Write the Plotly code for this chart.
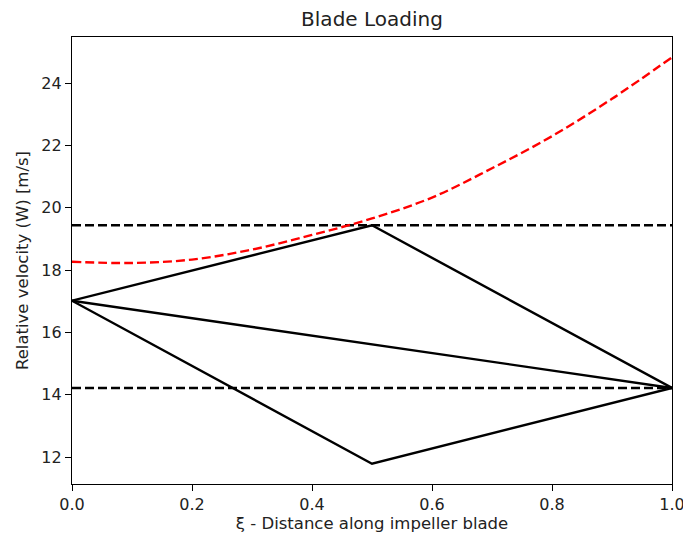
import plotly.graph_objects as go

# ---- data ----
xi_nodes = [0.0, 0.5, 1.0]
w_suction = [17.02, 19.44, 14.22]      # upper polyline
w_pressure = [17.02, 11.79, 14.22]     # lower polyline
xi_mean = [0.0, 1.0]
w_mean = [17.02, 14.22]
w_limits = [19.44, 14.22]              # dashed horizontal lines

xi_curve = [0.0, 0.1, 0.2, 0.3, 0.4, 0.5, 0.6, 0.7, 0.8, 0.9, 1.0]
w_curve = [18.27, 18.23, 18.34, 18.66, 19.13, 19.66, 20.33, 21.27, 22.30, 23.50, 24.83]

x_ticks = [0.0, 0.2, 0.4, 0.6, 0.8, 1.0]
y_ticks = [12, 14, 16, 18, 20, 22, 24]

FONT = "DejaVu Sans"
LW = 2.4

fig = go.Figure()
fig.add_trace(go.Scatter(x=xi_nodes, y=w_suction, mode="lines",
                         line=dict(color="black", width=LW), showlegend=False))
fig.add_trace(go.Scatter(x=xi_mean, y=w_mean, mode="lines",
                         line=dict(color="black", width=LW), showlegend=False))
fig.add_trace(go.Scatter(x=xi_nodes, y=w_pressure, mode="lines",
                         line=dict(color="black", width=LW), showlegend=False))
for yv in w_limits:
    fig.add_trace(go.Scatter(x=[x_ticks[0], x_ticks[-1]], y=[yv, yv], mode="lines",
                             line=dict(color="black", width=LW, dash="9px,4px"),
                             showlegend=False))
fig.add_trace(go.Scatter(x=xi_curve, y=w_curve, mode="lines",
                         line=dict(color="#ff0000", width=LW, dash="9px,4px", shape="spline"),
                         showlegend=False))

all_y = w_suction + w_pressure + w_mean + w_limits + w_curve
ymin, ymax = min(all_y), max(all_y)
pad = 0.05 * (ymax - ymin)

axis_common = dict(showline=True, linecolor="black", linewidth=1.3, mirror=True,
                   ticks="outside", ticklen=6, tickwidth=1.3, tickcolor="black",
                   showgrid=False, zeroline=False, automargin=False,
                   ticklabeloverflow="allow",
                   tickfont=dict(family=FONT, size=16, color="#222"))

fig.update_xaxes(range=[x_ticks[0], x_ticks[-1]], tickvals=x_ticks, tickformat=".1f",
                 title=dict(text="ξ - Distance along impeller blade", standoff=4,
                            font=dict(family=FONT, size=16.5, color="#222")),
                 **axis_common)
fig.update_yaxes(range=[ymin - pad, ymax + pad], tickvals=y_ticks,
                 title=dict(text="Relative velocity (W) [m/s]", standoff=8,
                            font=dict(family=FONT, size=16.5, color="#222")),
                 **axis_common)

fig.update_layout(
    width=683, height=537,
    margin=dict(l=72, r=11, t=37, b=53, autoexpand=False),
    paper_bgcolor="white", plot_bgcolor="white",
    title=dict(text="Blade Loading", x=0.5, xref="paper", xanchor="center",
               y=1, yref="paper", yanchor="bottom", pad=dict(b=11),
               font=dict(family=FONT, size=20, color="#222")),
    font=dict(family=FONT),
)

# remove the default page margin so the 683x537 figure fills the window exactly
fig.write_html("out.html",
               config={"displayModeBar": False},
               post_script="document.body.style.margin='0';document.body.style.overflow='hidden';")
